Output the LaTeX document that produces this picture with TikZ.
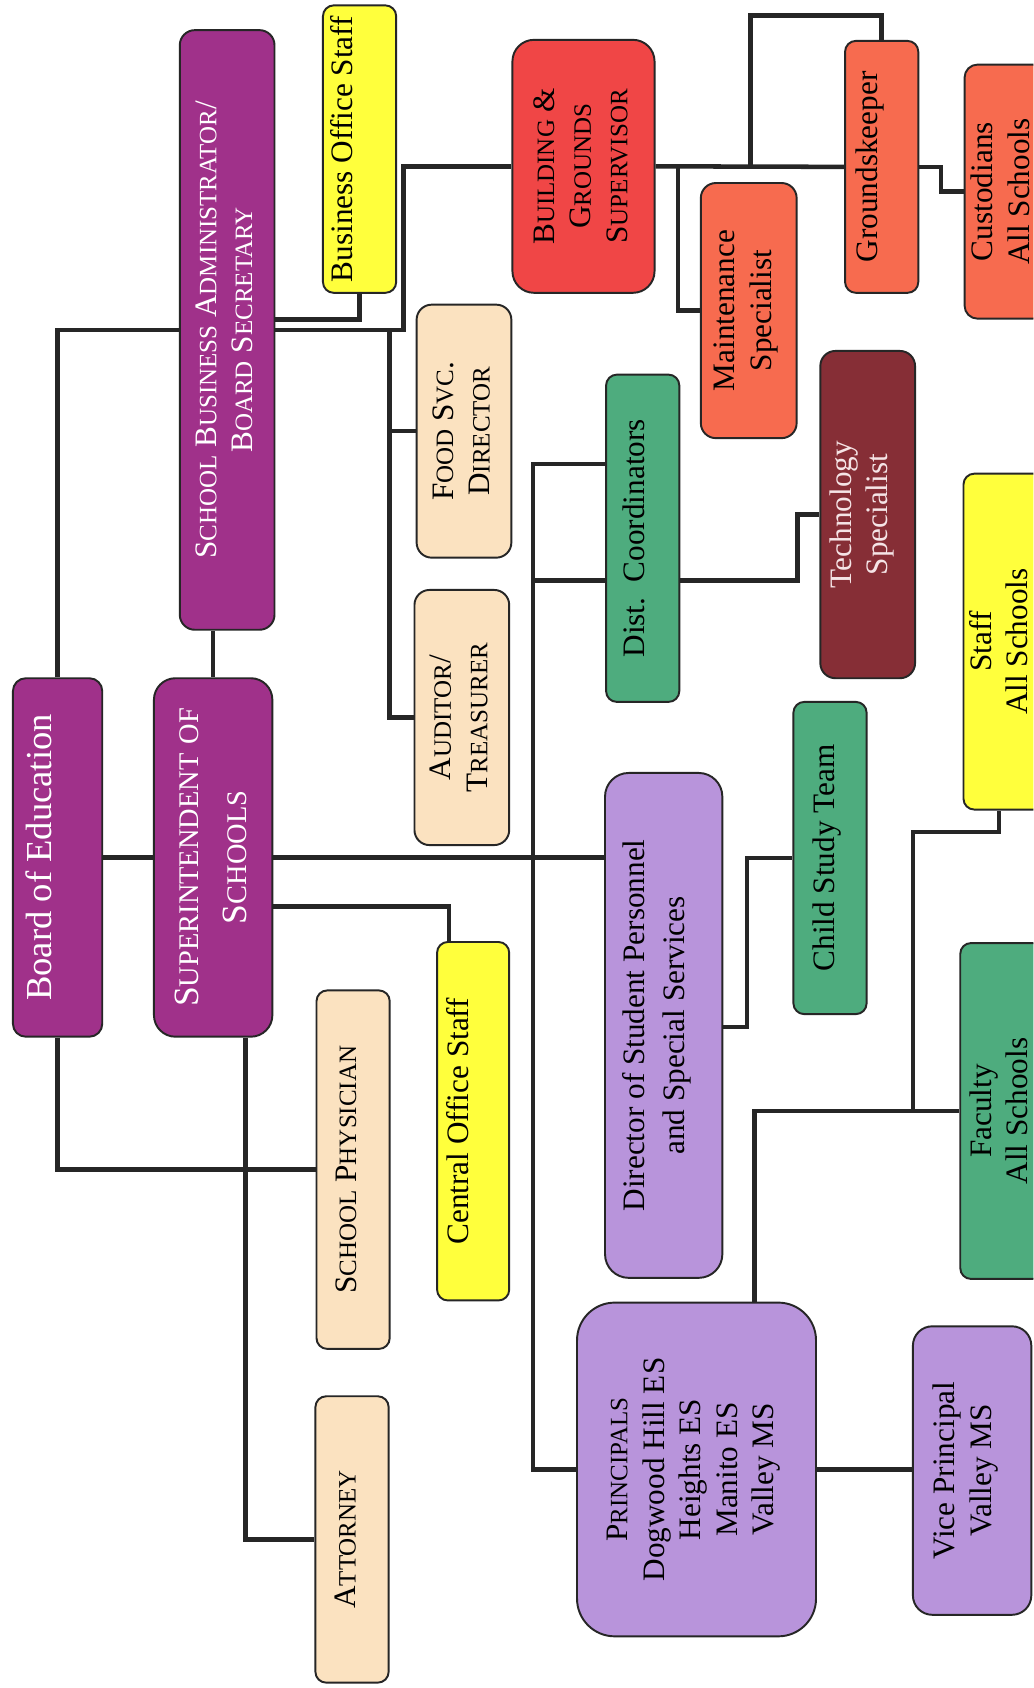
\documentclass[tikz,border=0pt]{standalone}
\usepackage{fontspec}
\setmainfont{Liberation Serif}
\usepackage{graphicx}
\usetikzlibrary{backgrounds}
\makeatletter
\newcommand{\smc}[1]{{\fontsize{0.8\dimexpr\f@size pt\relax}{\f@baselineskip}\selectfont #1}}
\makeatother
\newcommand{\rt}[2][0pt]{\rotatebox{90}{\begin{tabular}{@{}c@{}}#2\end{tabular}}\kern#1\relax}
\definecolor{mag}{HTML}{A0318A}
\definecolor{yel}{HTML}{FFFF3C}
\definecolor{beige}{HTML}{FBE2C0}
\definecolor{redb}{HTML}{F04646}
\definecolor{salm}{HTML}{F76B4F}
\definecolor{grn}{HTML}{4EAC7E}
\definecolor{techc}{HTML}{862E36}
\definecolor{lav}{HTML}{B894DB}
\definecolor{linec}{HTML}{262626}
\tikzset{
  box/.style={draw=linec, line width=1.8pt, rounded corners=10pt, inner sep=0pt,
    font=\fontsize{29}{34}\selectfont, text=black},
  conn/.style={draw=linec, line width=4.2pt, line join=miter},
}
\begin{document}
\begin{tikzpicture}[x=1pt,y=-1pt]
\useasboundingbox (0,0) rectangle (960,1568);
\clip (0,0) rectangle (960,1568);
% ---- nodes ----
\node[box, fill=mag, text=white, rounded corners=12pt, minimum width=83pt, minimum height=333pt,
  font=\fontsize{34}{40}\selectfont] (boe) at (53.5,796.5) {\rt[28pt]{Board of Education}};
\node[box, fill=mag, text=white, rounded corners=20pt, minimum width=110pt, minimum height=333pt,
  font=\fontsize{33}{44}\selectfont] (sup) at (198,796.5) {\rt{S\smc{UPERINTENDENT} \smc{OF}\\S\smc{CHOOLS}}};
\node[box, fill=mag, text=white, rounded corners=14pt, minimum width=88pt, minimum height=557pt,
  font=\fontsize{29}{33}\selectfont] (sba) at (211,306.5) {\rt{S\smc{CHOOL} B\smc{USINESS} A\smc{DMINISTRATOR}/\\B\smc{OARD} S\smc{ECRETARY}}};
\node[box, fill=yel, minimum width=68pt, minimum height=267pt] (bos) at (334,138.5) {\rt[26pt]{Business Office Staff}};
\node[box, fill=beige, rounded corners=14pt, minimum width=88pt, minimum height=235pt] (food) at (431,400.5) {\rt{F\smc{OOD} S\smc{VC}.\\D\smc{IRECTOR}}};
\node[box, fill=beige, rounded corners=14pt, minimum width=88pt, minimum height=237pt] (aud) at (429,666.5) {\rt{A\smc{UDITOR}/\\T\smc{REASURER}}};
\node[box, fill=redb, rounded corners=20pt, minimum width=132pt, minimum height=235pt] (bgs) at (542,154.5) {\rt{B\smc{UILDING} \&\\G\smc{ROUNDS}\\S\smc{UPERVISOR}}};
\node[box, fill=salm, rounded corners=14pt, minimum width=89pt, minimum height=237pt] (maint) at (695.5,288.5) {\rt[6pt]{Maintenance\\Specialist}};
\node[box, fill=salm, minimum width=68pt, minimum height=234pt] (grounds) at (819,155) {\rt[22pt]{Groundskeeper}};
\node[box, fill=salm, rounded corners=12pt, minimum width=89pt, minimum height=236pt] (cust) at (940.5,178) {\rt[16pt]{Custodians\\All Schools}};
\node[box, fill=grn, minimum width=68pt, minimum height=304pt] (dist) at (597,500) {\rt[10pt]{Dist.\ \ Coordinators}};
\node[box, fill=techc, text={rgb,255:red,245;green,228;blue,230}, rounded corners=14pt, minimum width=88pt, minimum height=304pt] (tech) at (806,478) {\rt[10pt]{Technology\\Specialist}};
\node[box, fill=yel, minimum width=88pt, minimum height=312pt] (staff) at (939,596) {\rt[16pt]{Staff\\All Schools}};
\node[box, fill=grn, minimum width=68pt, minimum height=290pt] (cst) at (771,797) {\rt[6pt]{Child Study Team}};
\node[box, fill=lav, rounded corners=22pt, minimum width=109pt, minimum height=469pt,
  font=\fontsize{29}{37}\selectfont] (dsp) at (616.5,952.5) {\rt[14pt]{Director of Student Personnel\\and Special Services}};
\node[box, fill=yel, minimum width=67pt, minimum height=333pt] (cos) at (439.5,1041.5) {\rt[22pt]{Central Office Staff}};
\node[box, fill=beige, minimum width=68pt, minimum height=333pt] (phys) at (328,1086.5) {\rt[8pt]{S\smc{CHOOL} P\smc{HYSICIAN}}};
\node[box, fill=beige, minimum width=68pt, minimum height=266pt] (att) at (327,1430) {\rt[7pt]{A\smc{TTORNEY}}};
\node[box, fill=lav, rounded corners=35pt, minimum width=222pt, minimum height=310pt] (prin) at (647,1365) {\rt[6pt]{P\smc{RINCIPALS}\\Dogwood Hill ES\\Heights ES\\Manito ES\\Valley MS}};
\node[box, fill=grn, minimum width=88pt, minimum height=312pt] (fac) at (936,1032) {\rt[10pt]{Faculty\\All Schools}};
\node[box, fill=lav, rounded corners=18pt, minimum width=110pt, minimum height=268pt] (vp) at (903,1366) {\rt[12pt]{Vice Principal\\Valley MS}};
% ---- helper coordinates ----
\coordinate (y842) at (0,842);
\coordinate (y297) at (0,297);
\coordinate (y539) at (0,539);
\coordinate (y954) at (0,954);
\coordinate (y773) at (0,773);
\coordinate (y14) at (0,14.5);
\coordinate (j1) at (375,306.5);
\coordinate (j2) at (362,306.5);
\coordinate (k1) at (630,154.5);
\coordinate (k2) at (697,154.5);
\coordinate (k3) at (874,178);
\coordinate (v1) at (495,431);
\coordinate (v2) at (495,1365);
\coordinate (v3) at (495,539);
\coordinate (t1) at (741,478);
\coordinate (c1) at (694,797);
\coordinate (f1) at (848,1032);
\coordinate (s1) at ([xshift=-11pt]staff.south);
% ---- connectors ----
\begin{pgfonlayer}{background}
\fill[white] (0,0) rectangle (960,1568);
\draw[conn] (boe.north) |- (sba.west);
\draw[conn] (sup.north) -- (sup.north |- sba.south);
\draw[conn] (boe.east) -- (sup.west);
\draw[conn] (sup.east) -- (sup.east -| dsp.west);
\draw[conn] (sup.east |- y842) -| ([xshift=12pt]cos.north west);
\draw[conn] (boe.south) |- (phys.west);
\draw[conn] ([xshift=30pt]sup.south) |- (att.west);
\draw[conn] (sba.east |- y297) -| (bos.south);
\draw[conn] (sba.east) -- (j1) |- (bgs.west);
\draw[conn] (j2) |- (aud.west);
\draw[conn] (j2 |- food.west) -- (food.west);
\draw[conn] (bgs.east) -- (grounds.west);
\draw[conn] (k1) |- (maint.west);
\draw[conn] (k2) |- (grounds.north |- y14) -- (grounds.north);
\draw[conn] (grounds.east) -| (k3) -- (cust.west);
\draw[conn] (dist.west |- v1) -- (v1) -- (v2) -- (prin.west);
\draw[conn] (v3) -- (dist.west |- v3);
\draw[conn] (dist.east |- y539) -| (t1) -- (tech.west);
\draw[conn] (dsp.east |- y954) -| (c1) -- (cst.west);
\draw[conn] ([xshift=54pt]prin.north) |- (fac.west);
\draw[conn] (f1) |- (s1 |- y773) -- (s1);
\draw[conn] (prin.east) -- (prin.east -| vp.west);
\end{pgfonlayer}
\end{tikzpicture}
\end{document}
